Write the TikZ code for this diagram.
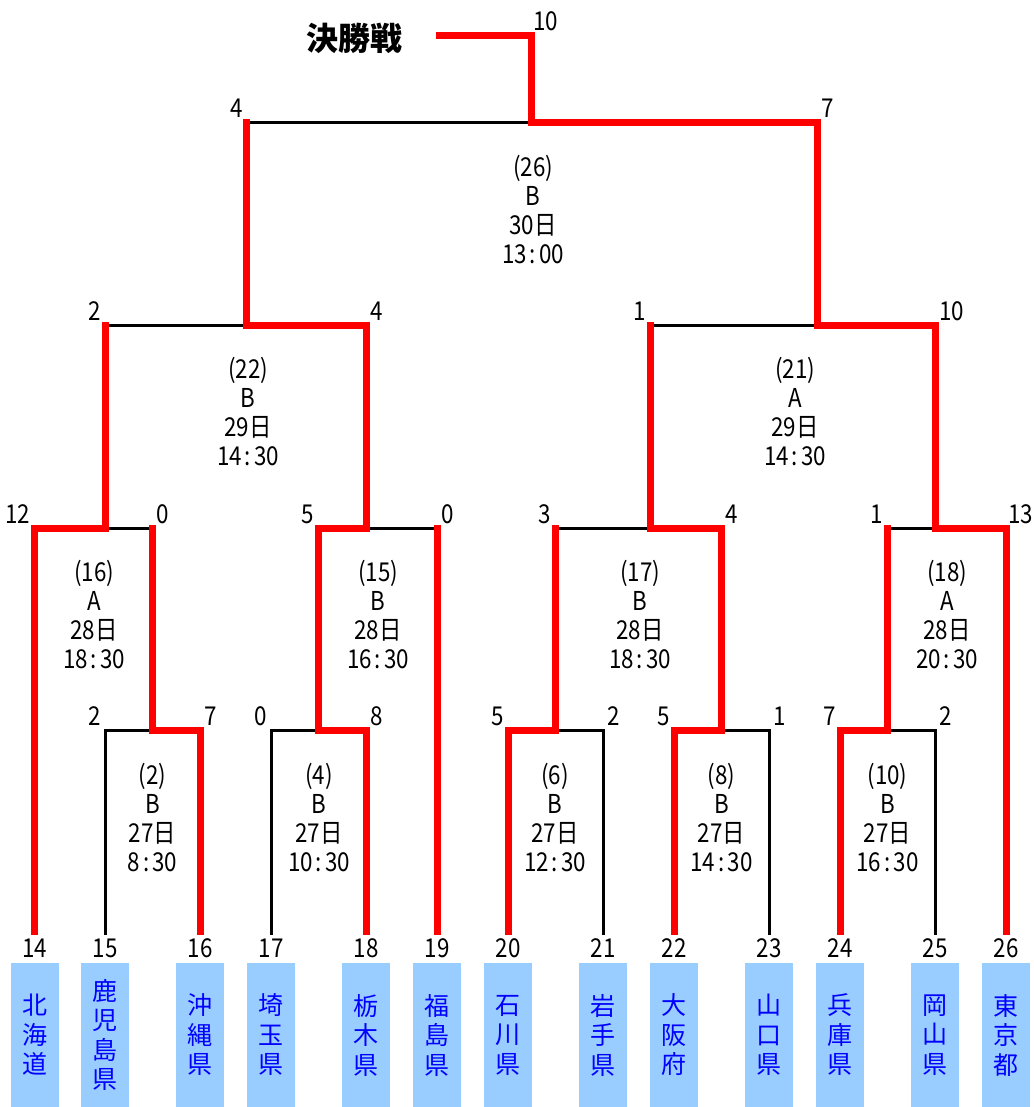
\documentclass[tikz,border=0pt]{standalone}
\usepackage{fontspec}
\setmainfont{Noto Sans CJK JP}
\newfontfamily\numfont[FakeStretch=0.86]{Noto Sans CJK JP}
\usetikzlibrary{calc}
\definecolor{winred}{HTML}{FF0000}
\definecolor{boxblue}{HTML}{99CCFF}
\definecolor{prefblue}{HTML}{0000FF}
\newcommand\hm[2]{#1\kern3pt:\kern3pt#2}
\begin{document}
\begin{tikzpicture}[x=1pt,y=-1pt,
  lose/.style={draw=black,line width=3pt,line join=miter},
  win/.style={draw=winred,line width=7pt,line join=miter},
  numtxt/.style={inner sep=0pt,font=\numfont\fontsize{26}{29}\selectfont},
  scL/.style={numtxt,anchor=base east,xshift=-4pt,yshift=5pt},
  scR/.style={numtxt,anchor=base west,xshift=4pt,yshift=5pt},
  scB/.style={numtxt,anchor=base},
  info/.style={numtxt,align=center},
  pref/.style={fill=boxblue,text=prefblue,minimum width=48pt,minimum height=144pt,
    inner sep=0pt,align=center,font=\fontsize{25}{29.5}\selectfont}]
\useasboundingbox (0,0) rectangle (1033,1107);

% team tops
\coordinate (t14) at (34.5,935);
\coordinate (t15) at (105,935);
\coordinate (t16) at (200,935);
\coordinate (t17) at (271,935);
\coordinate (t18) at (366,935);
\coordinate (t19) at (437,935);
\coordinate (t20) at (508,935);
\coordinate (t21) at (603,935);
\coordinate (t22) at (674,935);
\coordinate (t23) at (769,935);
\coordinate (t24) at (840,935);
\coordinate (t25) at (935,935);
\coordinate (t26) at (1006,935);
% match junctions
\coordinate (m2) at (152.5,730);
\coordinate (m4) at (318.5,730);
\coordinate (m6) at (555,730);
\coordinate (m8) at (721.5,730);
\coordinate (m10) at (887.5,730);
\coordinate (m16) at (105,528);
\coordinate (m15) at (366,528);
\coordinate (m17) at (650,528);
\coordinate (m18) at (935,528);
\coordinate (m22) at (246.7,325);
\coordinate (m21) at (817,325);
\coordinate (m26) at (531,123);
\coordinate (fin) at (436,36);

% boxes
\node[pref] (b14) at (34.5,1035) {北\\海\\道};
\node[pref] (b15) at (105,1035) {鹿\\児\\島\\県};
\node[pref] (b16) at (200,1035) {沖\\縄\\県};
\node[pref] (b17) at (271,1035) {埼\\玉\\県};
\node[pref] (b18) at (366,1035) {栃\\木\\県};
\node[pref] (b19) at (437,1035) {福\\島\\県};
\node[pref] (b20) at (508,1035) {石\\川\\県};
\node[pref] (b21) at (603,1035) {岩\\手\\県};
\node[pref] (b22) at (674,1035) {大\\阪\\府};
\node[pref] (b23) at (769,1035) {山\\口\\県};
\node[pref] (b24) at (840,1035) {兵\\庫\\県};
\node[pref] (b25) at (935,1035) {岡\\山\\県};
\node[pref] (b26) at (1006,1035) {東\\京\\都};

% bottom numbers
\foreach \i in {14,...,26} {\node[scB] (n\i) at ($(t\i)+(0,22)$) {\i};}

% losing lines
\draw[lose] (t15) |- (m2);
\draw[lose] (t17) |- (m4);
\draw[lose] (t21) |- (m6);
\draw[lose] (t23) |- (m8);
\draw[lose] (t25) |- (m10);
\draw[lose] (m16) -- (m2 |- m16);
\draw[lose] (m15) -- (t19 |- m15);
\draw[lose] (m17) -- (m6 |- m17);
\draw[lose] (m18) -- (m10 |- m18);
\draw[lose] (m22) -- (m16 |- m22);
\draw[lose] (m21) -- (m17 |- m21);
\draw[lose] (m26) -- (m22 |- m26);

% winning lines
\draw[win] (t14) |- (m16) -- ($(m16 |- m22)+(0,-3.5)$);
\draw[win] (t16) |- (m2) -- ($(m2 |- m16)+(0,-3.5)$);
\draw[win] (t18) |- (m4) |- (m15) |- (m22) -- ($(m22 |- m26)+(0,-3.5)$);
\draw[win] (t19) -- ($(t19 |- m15)+(0,-3.5)$);
\draw[win] (t20) |- (m6) -- ($(m6 |- m17)+(0,-3.5)$);
\draw[win] (t22) |- (m8) |- (m17) -- ($(m17 |- m21)+(0,-3.5)$);
\draw[win] (t24) |- (m10) -- ($(m10 |- m18)+(0,-3.5)$);
\draw[win] (t26) |- (m18) |- (m21) |- (m26) |- (fin);

% scores round 1
\node[scL] (s15) at (t15 |- m2) {2};
\node[scR] (s16) at (t16 |- m2) {7};
\node[scL] (s17) at (t17 |- m4) {0};
\node[scR] (s18) at (t18 |- m4) {8};
\node[scL] (s20) at (t20 |- m6) {5};
\node[scR] (s21) at (t21 |- m6) {2};
\node[scL] (s22) at (t22 |- m8) {5};
\node[scR] (s23) at (t23 |- m8) {1};
\node[scL] (s24) at (t24 |- m10) {7};
\node[scR] (s25) at (t25 |- m10) {2};
% round 2
\node[scL] (r16a) at (t14 |- m16) {12};
\node[scR] (r16b) at (m2 |- m16) {0};
\node[scL] (r15a) at (m4 |- m15) {5};
\node[scR] (r15b) at (t19 |- m15) {0};
\node[scL] (r17a) at (m6 |- m17) {3};
\node[scR] (r17b) at (m8 |- m17) {4};
\node[scL] (r18a) at (m10 |- m18) {1};
\node[scR,xshift=-2pt] (r18b) at (t26 |- m18) {13};
% round 3
\node[scL] (r22a) at (m16 |- m22) {2};
\node[scR] (r22b) at (m15 |- m22) {4};
\node[scL] (r21a) at (m17 |- m21) {1};
\node[scR] (r21b) at (m18 |- m21) {10};
% semi
\node[scL] (r26a) at (m22 |- m26) {4};
\node[scR] (r26b) at (m21 |- m26) {7};
% final
\node[scR,xshift=-2pt] (rfin) at (m26 |- fin) {10};
\node[inner sep=0pt,font=\bfseries\fontsize{32}{32}\selectfont] (title) at (354,38) {決勝戦};

% match info
\node[info] (i2) at (152.5,818) {(2)\\B\\27日\\\hm{8}{30}};
\node[info] (i4) at (319,818) {(4)\\B\\27日\\\hm{10}{30}};
\node[info] (i6) at (555,818) {(6)\\B\\27日\\\hm{12}{30}};
\node[info] (i8) at (721.5,818) {(8)\\B\\27日\\\hm{14}{30}};
\node[info] (i10) at (887.5,818) {(10)\\B\\27日\\\hm{16}{30}};
\node[info] (i16) at (94,615) {(16)\\A\\28日\\\hm{18}{30}};
\node[info] (i15) at (378,615) {(15)\\B\\28日\\\hm{16}{30}};
\node[info] (i17) at (640,615) {(17)\\B\\28日\\\hm{18}{30}};
\node[info] (i18) at (947,615) {(18)\\A\\28日\\\hm{20}{30}};
\node[info] (i22) at (248,412) {(22)\\B\\29日\\\hm{14}{30}};
\node[info] (i21) at (795,412) {(21)\\A\\29日\\\hm{14}{30}};
\node[info] (i26) at (533,210) {(26)\\B\\30日\\\hm{13}{00}};
\end{tikzpicture}
\end{document}
